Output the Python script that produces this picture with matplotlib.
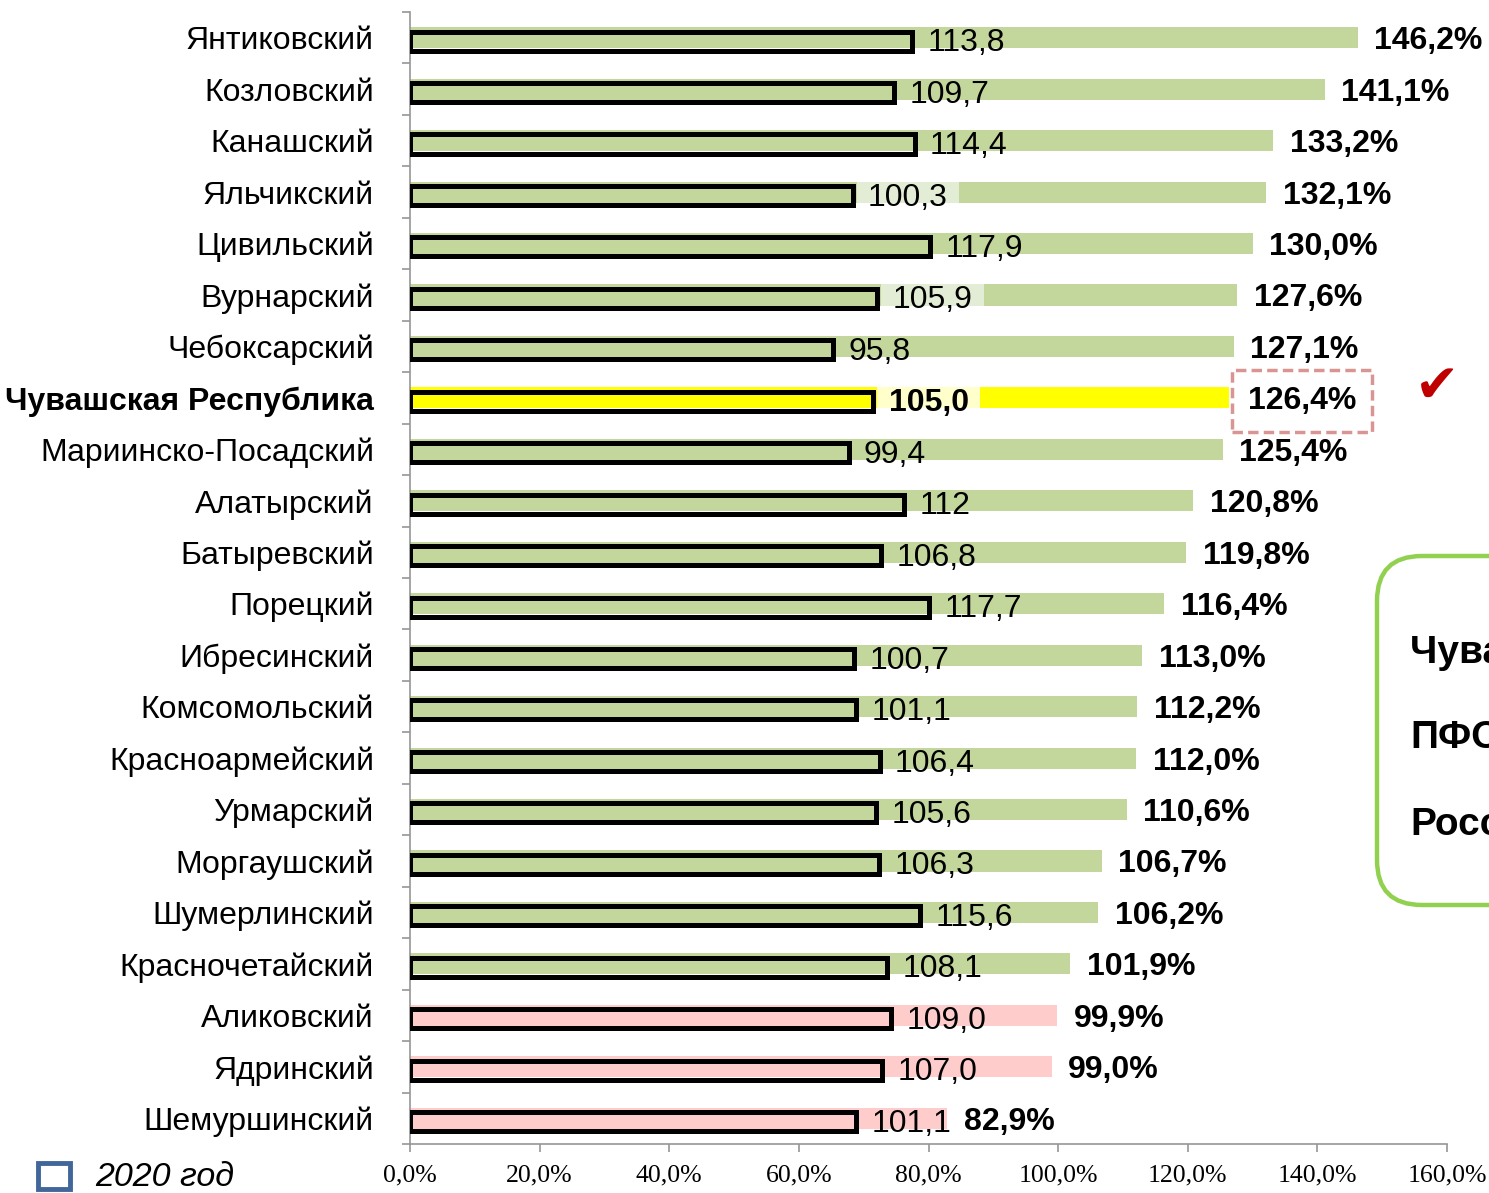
import matplotlib
matplotlib.use("Agg")
import matplotlib.pyplot as plt
import numpy as np
from matplotlib.patches import Rectangle, FancyBboxPatch

plt.rcParams['font.family'] = ['Liberation Sans', 'DejaVu Sans']

categories = ["Янтиковский", "Козловский", "Канашский", "Яльчикский", "Цивильский",
              "Вурнарский", "Чебоксарский", "Чувашская Республика", "Мариинско-Посадский",
              "Алатырский", "Батыревский", "Порецкий", "Ибресинский", "Комсомольский",
              "Красноармейский", "Урмарский", "Моргаушский", "Шумерлинский",
              "Красночетайский", "Аликовский", "Ядринский", "Шемуршинский"]
growth_2021 = [146.2, 141.1, 133.2, 132.1, 130.0, 127.6, 127.1, 126.4, 125.4, 120.8, 119.8,
               116.4, 113.0, 112.2, 112.0, 110.6, 106.7, 106.2, 101.9, 99.9, 99.0, 82.9]
values_2020 = [113.8, 109.7, 114.4, 100.3, 117.9, 105.9, 95.8, 105.0, 99.4, 112.0, 106.8,
               117.7, 100.7, 101.1, 106.4, 105.6, 106.3, 115.6, 108.1, 109.0, 107.0, 101.1]
labels_2020 = ["113,8", "109,7", "114,4", "100,3", "117,9", "105,9", "95,8", "105,0", "99,4",
               "112", "106,8", "117,7", "100,7", "101,1", "106,4", "105,6", "106,3", "115,6",
               "108,1", "109,0", "107,0", "101,1"]
xticks = [0, 20, 40, 60, 80, 100, 120, 140, 160]
xtick_labels = ["0,0%", "20,0%", "40,0%", "60,0%", "80,0%", "100,0%", "120,0%", "140,0%", "160,0%"]
legend_label = "2020 год"
box_lines = ["Чувашская Республика", "ПФО", "Россия"]
highlight = "Чувашская Республика"
label_bg_rows = ["Яльчикский", "Вурнарский", "Чувашская Республика"]

GREEN = "#C3D69B"
PINK = "#FFCCCC"
YELLOW = "#FFFF00"

n = len(categories)
y = np.arange(n)

W, H = 1489, 1193
fig = plt.figure(figsize=(W / 100, H / 100), dpi=100)
ax = fig.add_axes([410 / W, 1 - 1144 / H, 1037 / W, 1132 / H])

colors = []
for c, v in zip(categories, growth_2021):
    if c == highlight:
        colors.append(YELLOW)
    elif v < 100:
        colors.append(PINK)
    else:
        colors.append(GREEN)

wide = ax.barh(y, growth_2021, height=0.41, color=colors, zorder=2)
ax.set_xlim(0, 160)
ax.set_ylim(n - 0.5, -0.5)

# axis styling
for s in ["top", "right"]:
    ax.spines[s].set_visible(False)
for s in ["left", "bottom"]:
    ax.spines[s].set_color("#969696")
    ax.spines[s].set_linewidth(1.2)

ax.set_xticks(xticks)
ax.set_xticklabels(xtick_labels, family=["Liberation Serif", "DejaVu Serif"], fontsize=18.5)
ax.tick_params(axis="x", length=6, width=1.2, color="#969696", pad=9)

ax.set_yticks(y)
ax.set_yticklabels(categories, fontsize=23)
ax.tick_params(axis="y", which="major", length=0, pad=26)
ax.set_yticks(np.arange(n + 1) - 0.5, minor=True)
ax.tick_params(axis="y", which="minor", length=6, width=1.2, color="#969696")
for lab in ax.get_yticklabels():
    if lab.get_text() == highlight:
        lab.set_fontweight("bold")

# percent labels
for i, (c, v) in enumerate(zip(categories, growth_2021)):
    txt = f"{v:.1f}%".replace(".", ",")
    if c == highlight:
        ax.annotate(txt, (v, i), xytext=(13.5, -2), textcoords="offset points",
                    ha="left", va="center", fontsize=23, fontweight="bold", zorder=5,
                    bbox=dict(boxstyle="square,pad=0.5", facecolor="white",
                              edgecolor="#D99594", linestyle=(0, (3, 1.5)), linewidth=2.5))
    else:
        ax.annotate(txt, (v, i), xytext=(12, -2.5), textcoords="offset points",
                    ha="left", va="center", fontsize=23, fontweight="bold", zorder=5)

# secondary axis for 2020 values
ax2 = ax.twiny()
ax2.set_xlim(0, 235)
ax2.set_ylim(n - 0.5, -0.5)
ax2.axis("off")
ax2.barh(y + 0.065, values_2020, height=0.37, facecolor="none", edgecolor="black",
         linewidth=3.6, zorder=3)

for i, (c, v, t) in enumerate(zip(categories, values_2020, labels_2020)):
    bold = c == highlight
    if c in label_bg_rows:
        fc = "#FFFFCC" if bold else "#E3ECD4"
        bg = ax2.annotate(t, (v, i + 0.065), xytext=(11, -1.5), textcoords="offset points",
                          ha="left", va="center", fontsize=23, color="none",
                          fontweight="bold" if bold else "normal", zorder=2.5,
                          bbox=dict(boxstyle="square,pad=0.35", facecolor=fc, edgecolor="none"))
        bg.set_clip_path(wide[i])
    ax2.annotate(t, (v, i + 0.065), xytext=(11, -1.5), textcoords="offset points",
                 ha="left", va="center", fontsize=23,
                 fontweight="bold" if bold else "normal", zorder=4)

# check mark
fig.text(1437 / W, 1 - 387 / H, "✔", color="#C00000", fontsize=38,
         family=["DejaVu Sans"], ha="center", va="center")

# green rounded box on the right (cut off by figure edge)
box = FancyBboxPatch((13.77, (H - 905) / 100), 3.0, 3.49,
                     boxstyle="round,pad=0,rounding_size=0.45",
                     transform=fig.dpi_scale_trans, facecolor="white",
                     edgecolor="#92D050", linewidth=3.2)
fig.patches.append(box)
for yy, t in zip([652, 738, 825], box_lines):
    fig.text(1410 / W, 1 - yy / H, t, fontsize=28, fontweight="bold",
             ha="left", va="center")

# legend
fig.patches.append(Rectangle((38 / W, (H - 1189) / H), 32 / W, 26 / H,
                             transform=fig.transFigure, facecolor="white",
                             edgecolor="#41669A", linewidth=3.5))
fig.text(95 / W, 1 - 1177 / H, legend_label, fontsize=24.5, style="italic",
         ha="left", va="center")

fig.savefig("out.png", dpi=100)
